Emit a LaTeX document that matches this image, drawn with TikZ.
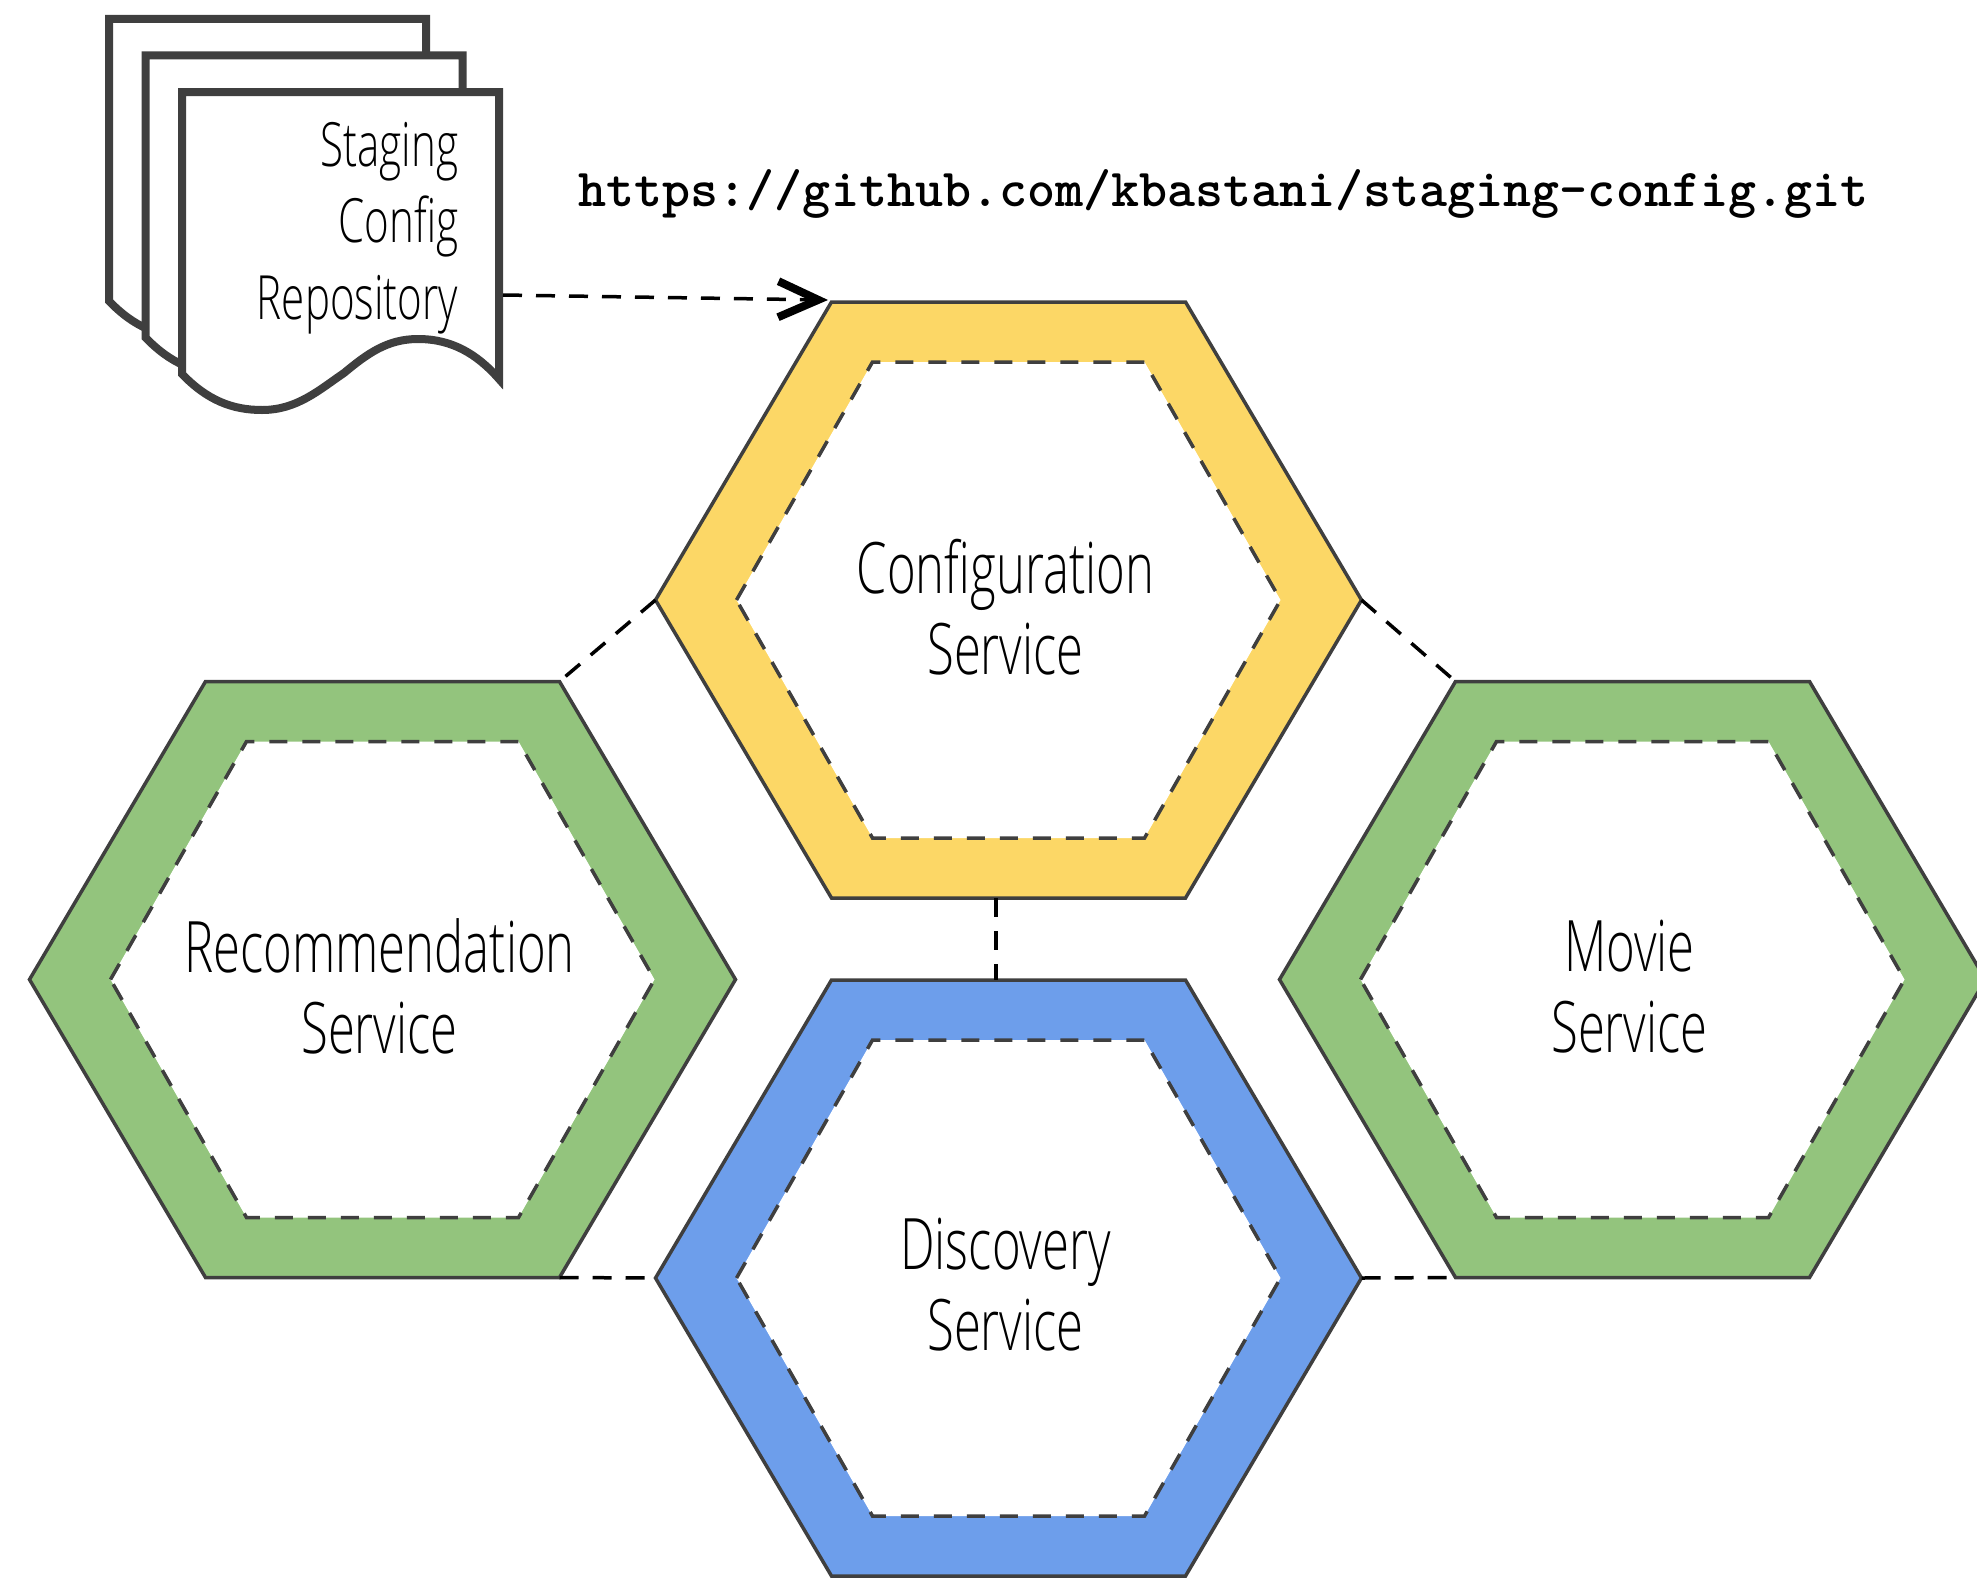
\documentclass[tikz,border=0pt]{standalone}
\usepackage{fontspec}
\usepackage{tikz}
\usetikzlibrary{arrows.meta}
\setmainfont[FakeStretch=0.69]{Open Sans Light}

\definecolor{hexyellow}{HTML}{FCD766}
\definecolor{hexgreen}{HTML}{93C47D}
\definecolor{hexblue}{HTML}{6D9EEB}
\definecolor{hexline}{HTML}{3F3F3F}

\tikzset{
  hexouter/.style={draw=hexline, line width=3.5pt, line join=miter},
  hexinner/.style={draw=hexline, fill=white, line width=3.5pt, dash pattern=on 18pt off 15pt},
  link/.style={draw=black, line width=3.5pt, dash pattern=on 19pt off 14pt},
  docsheet/.style={draw=hexline, fill=white, line width=8pt, miter limit=10},
  hexlabel/.style={align=center, font=\fontsize{71}{81}\selectfont, inner sep=0pt},
  doclabel/.style={align=right, font=\fontsize{61}{76.5}\selectfont, inner sep=0pt, anchor=east},
  >={Straight Barb[length=40pt, width=36pt, line width=8pt]}
}

% name, x, y, colour, label
\newcommand{\hexring}[5]{
  \begin{scope}[shift={(#2,#3)}]
    \draw[hexouter, fill=#4] (-353,0) coordinate (#1-w) -- (-177,-298) coordinate (#1-nw)
      -- (177,-298) coordinate (#1-ne) -- (353,0) coordinate (#1-e)
      -- (177,298) coordinate (#1-se) -- (-177,298) coordinate (#1-sw) -- cycle;
    \draw[hexinner] (-272,0) -- (-136,-238) -- (136,-238) -- (272,0) -- (136,238) -- (-136,238) -- cycle;
    \node[hexlabel] (#1) at (-3,7) {#5};
    \coordinate (#1-n) at (-12.5,-298);
    \coordinate (#1-s) at (-12.5,298);
  \end{scope}
}

\begin{document}
\begin{tikzpicture}[x=1pt, y=-1pt]
\path[use as bounding box, clip] (0,0) rectangle (1977,1579);

% Document stack
\foreach \off in {0,36.5,73} {
  \draw[docsheet, shift={(109+\off,19+\off)}] (0,0) -- (317,0) -- (317,287)
    .. controls (295,262) and (270,247) .. (236,247)
    .. controls (205,247) and (185,262) .. (162,281)
    .. controls (137,298) and (115,318) .. (80,318)
    .. controls (50,318) and (25,308) .. (0,282) -- cycle;
}
\node[doclabel] (repo) at (458.5,228) {Staging\\Config\\Repository};
\coordinate (repo-e) at (503,295);
\coordinate (repo-head) at (828,300);

% Repository address
\node[inner sep=0pt, font=\fontsize{53.4}{60}\selectfont\ttfamily\bfseries] (url) at (1223.5,193.5) {https://github.com/kbastani/staging-config.git};

% Hexagons
\hexring{config}{1008.5}{600}{hexyellow}{Configuration\\Service}
\hexring{recommend}{382.5}{979.5}{hexgreen}{Recommendation\\Service}
\hexring{movie}{1632.5}{979.5}{hexgreen}{Movie\\Service}
\hexring{discovery}{1008.5}{1278}{hexblue}{Discovery\\Service}

% Links
\draw[link, ->] (repo-e) -- (repo-head);
\draw[link] (config-w) -- (recommend-ne);
\draw[link] (config-e) -- (movie-nw);
\draw[link] (config-s) -- (discovery-n);
\draw[link] (recommend-se) -- (discovery-w);
\draw[link] (discovery-e) -- (movie-sw);

\end{tikzpicture}
\end{document}
